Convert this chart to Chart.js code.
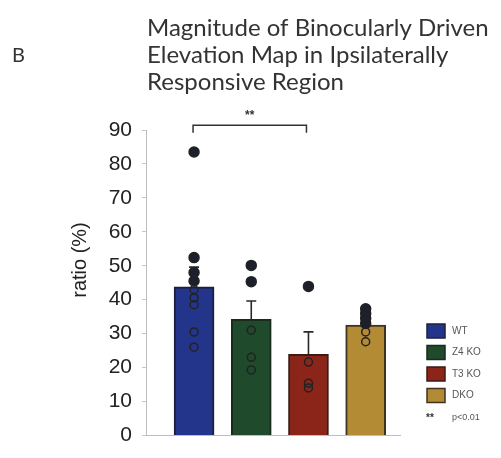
<!DOCTYPE html>
<html>
<head>
<meta charset="utf-8">
<script src="https://cdn.jsdelivr.net/npm/chart.js@4.4.1/dist/chart.umd.min.js"></script>
<style>
html,body{margin:0;padding:0;background:#fff;}
#wrap{width:501px;height:458px;position:relative;}
</style>
</head>
<body>
<div id="wrap"><canvas id="c"></canvas></div>
<script>
// ---- data ----
const categories = ['WT', 'Z4 KO', 'T3 KO', 'DKO'];
const categoryX = [1, 2, 3, 4];
const means = [43.8, 34.2, 23.9, 32.5];
const sems = [5.8, 5.4, 6.6, 1.5];
const pointsWT = [83.5, 52.4, 48, 45.5, 43, 40.5, 38.5, 30.5, 26];
const pointsZ4 = [50.1, 45.3, 31, 23, 19.3];
const pointsT3 = [43.9, 21.6, 15.4, 14];
const pointsDKO = [37.3, 35.9, 34.5, 33, 30.5, 27.6];
const yTicks = [0, 10, 20, 30, 40, 50, 60, 70, 80, 90];
const titleLines = ['Magnitude of Binocularly Driven', 'Elevation Map in Ipsilaterally', 'Responsive Region'];
const panelLabel = 'B';
const yTitle = 'ratio (%)';
const sigPair = [1, 3];
const sigLabel = '**';
const sigNote = 'p<0.01';

// ---- styles ----
const fills = ['#23358a', '#1f4a2c', '#8b2519', '#b48b35'];
const edges = ['#1b1f3c', '#1a2a1d', '#3d1a14', '#40331f'];

const allPts = [pointsWT, pointsZ4, pointsT3, pointsDKO];
const scatterData = [];
allPts.forEach((arr, i) => arr.forEach(v => scatterData.push({x: categoryX[i], y: v, g: i})));

const overlay = {
  id: 'overlay',
  afterDatasetDraw(chart, args) {
    if (args.index !== 1) return;
    const {ctx, scales: {x, y}} = chart;
    ctx.save();
    ctx.strokeStyle = '#2a2a2a';
    ctx.lineWidth = 1.6;
    categoryX.forEach((cx, i) => {
      const px = x.getPixelForValue(cx);
      const y0 = y.getPixelForValue(means[i]);
      const y1 = y.getPixelForValue(means[i] + sems[i]);
      ctx.beginPath();
      ctx.moveTo(px, y0); ctx.lineTo(px, y1);
      ctx.moveTo(px - 5, y1); ctx.lineTo(px + 5, y1);
      ctx.stroke();
    });
    ctx.restore();
  },
  afterDraw(chart) {
    const {ctx, scales: {x, y}} = chart;
    ctx.save();
    // panel label + title
    ctx.fillStyle = '#333';
    ctx.textBaseline = 'middle';
    ctx.textAlign = 'left';
    ctx.font = '20px Lato';
    ctx.fillText(panelLabel, 12, 56);
    ctx.font = '24px Lato';
    titleLines.forEach((t, i) => ctx.fillText(t, 147, 28 + i * 27));
    // y title
    ctx.save();
    ctx.translate(80, 260);
    ctx.rotate(-Math.PI / 2);
    ctx.textAlign = 'center';
    ctx.font = '20px "Liberation Sans"';
    ctx.fillStyle = '#222';
    ctx.fillText(yTitle, 0, 0);
    ctx.restore();
    // significance bracket
    const bx0 = x.getPixelForValue(sigPair[0]) - 1;
    const bx1 = x.getPixelForValue(sigPair[1]) - 2;
    const by = y.getPixelForValue(91.4);
    const byE = y.getPixelForValue(89.2);
    ctx.strokeStyle = '#333';
    ctx.lineWidth = 1.5;
    ctx.beginPath();
    ctx.moveTo(bx0, byE); ctx.lineTo(bx0, by); ctx.lineTo(bx1, by); ctx.lineTo(bx1, byE);
    ctx.stroke();
    ctx.textAlign = 'center';
    ctx.font = 'bold 12px "Liberation Sans"';
    ctx.fillStyle = '#333';
    ctx.fillText(sigLabel, (bx0 + bx1) / 2, by - 10);
    // legend
    const lx = 427, ly0 = 331, step = 21.5;
    ctx.textAlign = 'left';
    categories.forEach((c, i) => {
      const cy = ly0 + i * step;
      ctx.fillStyle = fills[i];
      ctx.fillRect(lx, cy - 7, 18, 14);
      ctx.strokeStyle = edges[i];
      ctx.lineWidth = 1.5;
      ctx.strokeRect(lx, cy - 7, 18, 14);
      ctx.fillStyle = '#555';
      ctx.font = '10px "Liberation Sans"';
      ctx.fillText(c, 452, cy);
    });
    const ny = ly0 + 4 * step + 1;
    ctx.font = 'bold 10px "Liberation Sans"';
    ctx.fillStyle = '#333';
    ctx.fillText(sigLabel, 426, ny);
    ctx.font = '9px "Liberation Sans"';
    ctx.fillStyle = '#555';
    ctx.fillText(sigNote, 452, ny);
    ctx.restore();
  }
};

new Chart(document.getElementById('c'), {
  type: 'bar',
  data: {
    datasets: [
      {
        type: 'scatter',
        data: scatterData,
        order: 1,
        pointRadius: ctx => (ctx.raw && ctx.raw.y > means[ctx.raw.g] ? 5 : 4),
        pointBackgroundColor: ctx => (ctx.raw && ctx.raw.y > means[ctx.raw.g] ? '#1c1f2c' : 'rgba(0,0,0,0)'),
        pointBorderColor: '#222',
        pointBorderWidth: 1.5
      },
      {
        type: 'bar',
        data: categoryX.map((cx, i) => ({x: cx, y: means[i]})),
        order: 2,
        backgroundColor: fills,
        borderColor: edges,
        borderWidth: 2,
        barThickness: 40
      }
    ]
  },
  options: {
    responsive: true,
    maintainAspectRatio: false,
    animation: false,
    events: [],
    layout: {padding: {top: 130, right: 101, bottom: 12, left: 0}},
    plugins: {legend: {display: false}, tooltip: {enabled: false}, title: {display: false}},
    scales: {
      x: {
        type: 'linear',
        offset: false,
        min: 0.16,
        max: 4.6,
        ticks: {display: false},
        grid: {display: false},
        border: {display: true, color: '#bdbdbd', width: 1},
        afterFit: s => { s.height = 0; }
      },
      y: {
        min: 0,
        max: 90,
        afterBuildTicks: s => { s.ticks = yTicks.map(v => ({value: v})); },
        ticks: {
          color: '#222',
          padding: 10,
          font: {family: '"Liberation Sans"', size: 21}
        },
        grid: {drawOnChartArea: false, drawTicks: true, tickLength: 4, color: '#c8c8c8'},
        border: {display: true, color: '#bdbdbd', width: 1},
        afterFit: s => { s.width = 146; }
      }
    }
  },
  plugins: [overlay]
});
</script>
</body>
</html>
